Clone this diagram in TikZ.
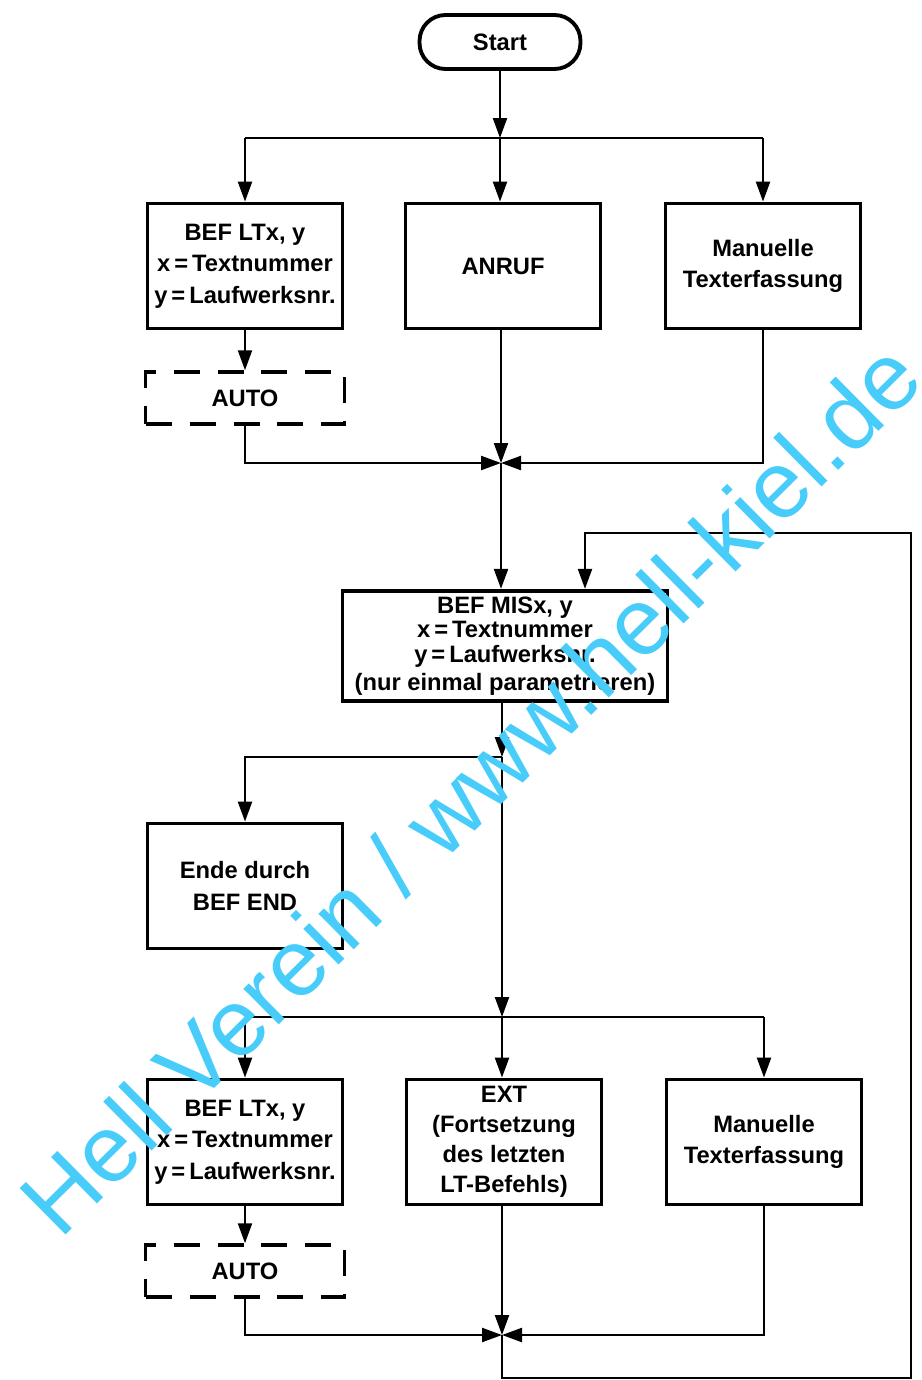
\documentclass[tikz,border=0pt]{standalone}
\usepackage{fontspec}
\setmainfont{Liberation Sans}
\usetikzlibrary{arrows.meta}
\definecolor{wmark}{RGB}{72,204,250}

\begin{document}
\begin{tikzpicture}[x=0.02cm,y=-0.02cm,
    txt/.style={font=\bfseries\fontsize{13.5}{18}\selectfont,align=center},
    box/.style={txt,draw,line width=2.2pt,minimum width=3.9cm,minimum height=2.5cm},
    autobox/.style={txt,draw,line width=2pt,dash pattern=on 0.52cm off 0.36cm,minimum width=3.98cm,minimum height=1.04cm},
    arr/.style={line width=1.3pt,-{Triangle[length=0.4cm,width=0.28cm]}},
    ln/.style={line width=1.3pt}]
	\useasboundingbox (0,0) rectangle (921,1380);

	\node[txt,draw,line width=2.2pt,rounded corners=0.52cm,minimum width=3.22cm,minimum height=1.08cm] (start) at (500,42) {Start};

	\node[box] (lt1) at (245,266) {BEF LTx, y\\x\,=\,Textnummer\\y\,=\,Laufwerksnr.};
	\node[box] (anruf) at (503,266) {ANRUF};
	\node[box] (man1) at (763,266) {Manuelle\\Texterfassung};
	\node[autobox] (auto1) at (245,398) {AUTO};

	\node[box,minimum width=6.5cm,minimum height=2.12cm,font=\bfseries\fontsize{13.5}{14}\selectfont] (mis) at (505,646) {BEF MISx, y\\x\,=\,Textnummer\\y\,=\,Laufwerksnr.\\[2pt](nur einmal parametrieren)};

	\node[box] (ende) at (245,886) {Ende durch\\BEF END};

	\node[box] (lt2) at (245,1142) {BEF LTx, y\\x\,=\,Textnummer\\y\,=\,Laufwerksnr.};
	\node[box,font=\bfseries\fontsize{13.5}{17}\selectfont] (ext) at (504,1142) {EXT\\(Fortsetzung\\des letzten\\LT-Befehls)};
	\node[box] (man2) at (764,1142) {Manuelle\\Texterfassung};
	\node[autobox] (auto2) at (245,1271) {AUTO};

	\coordinate (br1) at (500,138);
	\coordinate (j1) at (501,463);
	\coordinate (br2) at (502,757);
	\coordinate (br3) at (502,1017);
	\coordinate (j2) at (502,1335);
	\coordinate (bot) at (502,1378);
	\coordinate (loop) at (911,533);
	\coordinate (loopin) at (585,533);

	% oben
	\draw[arr] (start) -- (br1);
	\draw[ln] (br1 -| lt1) -- (br1 -| man1);
	\draw[arr] (br1 -| lt1) -- (lt1);
	\draw[arr] (br1) -- (br1 |- anruf.north);
	\draw[arr] (br1 -| man1) -- (man1);
	\draw[arr] (lt1) -- (auto1);
	\draw[arr] (auto1) |- (j1);
	\draw[arr] (man1) |- (j1);
	\draw[arr] (j1 |- anruf.south) -- (j1);
	\draw[arr] (j1) -- (j1 |- mis.north);

	% mitte
	\draw[arr] (br2 |- mis.south) -- (br2);
	\draw[arr] (br2) -| (ende);
	\draw[arr] (br2) -- (br3);
	\draw[ln] (br3 -| lt2) -- (br3 -| man2);
	\draw[arr] (br3 -| lt2) -- (lt2);
	\draw[arr] (br3) -- (br3 |- ext.north);
	\draw[arr] (br3 -| man2) -- (man2);

	% unten
	\draw[arr] (lt2) -- (auto2);
	\draw[arr] (auto2) |- (j2);
	\draw[arr] (man2) |- (j2);
	\draw[arr] (j2 |- ext.south) -- (j2);
	\draw[arr] (j2) -- (bot) -| (loop) -- (loopin) -- (loopin |- mis.north);

	\node[text=wmark,font=\fontsize{54}{58}\selectfont,rotate=44.7] (wm) at (470,788) {Hell Verein / www.hell-kiel.de};
\end{tikzpicture}
\end{document}
